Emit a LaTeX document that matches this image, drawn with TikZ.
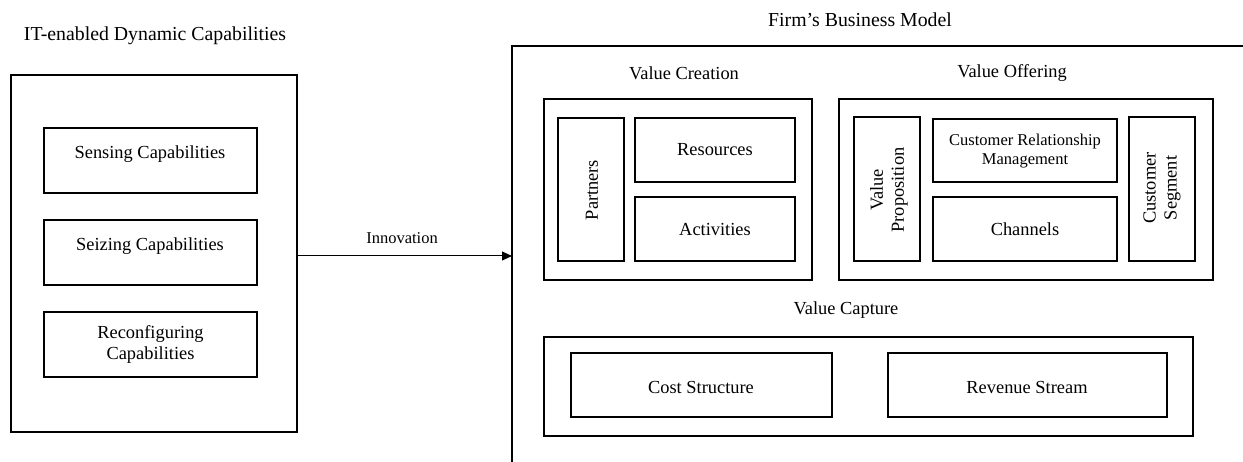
\documentclass[tikz,border=0pt]{standalone}
\usepackage{fontspec}
\setmainfont{Liberation Serif}
\usetikzlibrary{arrows.meta}
\newcommand{\bx}[6]{\node[box, minimum width={(#4-#2)*1pt}, minimum height={(#5-#3)*1pt}] (#1) at ({(#2+#4)/2},{(#3+#5)/2}) {#6};}
\tikzset{
  box/.style={draw, line width=1.7pt, inner sep=0pt, align=center, font=\fontsize{18.4}{21}\selectfont},
  txt/.style={inner sep=0pt, align=center, font=\fontsize{18.4}{21}\selectfont},
  ttl/.style={inner sep=0pt, align=center, font=\fontsize{19.8}{23}\selectfont},
  small/.style={inner sep=0pt, align=center, font=\fontsize{16.5}{19}\selectfont},
  vtxt/.style={txt, rotate=90},
  arr/.style={line width=1pt, -{Triangle[length=10pt, width=9pt]}}
}
\begin{document}
\begin{tikzpicture}[x=1pt, y=-1pt]
\useasboundingbox (0,0) rectangle (1243,462);
\clip (0,0) rectangle (1243,462);
% titles
\node[ttl] (ttlL) at (155,36) {IT-enabled Dynamic Capabilities};
\node[ttl] (ttlR) at (860,20) {Firm’s Business Model};
% left side
\bx{outer}{11}{75}{297}{432}{}
\bx{sense}{44}{128}{257}{193}{}
\node[txt] (senseT) at (150,154) {Sensing Capabilities};
\bx{seize}{44}{220}{257}{285}{}
\node[txt] (seizeT) at (150,246) {Seizing Capabilities};
\bx{reconf}{44}{312}{257}{377}{Reconfiguring\\Capabilities}
% business model frame (cut off at the picture's edges)
\draw[line width=1.7pt] (1260,46) -- (512,46) -- (512,480);
\coordinate (bmin) at (512,256);
% arrow
\draw[arr] (outer.east |- bmin) -- (bmin);
\node[small] (innov) at (402,238) {Innovation};
% value creation
\node[txt] (vcT) at (684,73) {Value Creation};
\bx{vc}{544}{99}{812}{280}{}
\bx{partners}{558}{118}{624}{261}{}
\node[vtxt] (partnersT) at (592,190) {Partners};
\bx{resources}{635}{118}{795}{182}{Resources}
\bx{activities}{635}{197}{795}{261}{Activities}
% value offering
\node[txt] (voT) at (1012,73) {Value Offering};
\bx{vo}{839}{99}{1213}{280}{}
\bx{vp}{854}{117}{920}{261}{}
\node[vtxt] (vpT) at (889,190) {Value\\Proposition};
\bx{crm}{933}{119}{1117}{182}{}
\node[small] (crmT) at (1025,151) {Customer Relationship\\Management};
\bx{channels}{933}{197}{1117}{261}{Channels}
\bx{cs}{1129}{117}{1195}{261}{}
\node[vtxt] (csT) at (1162,188) {Customer\\Segment};
% value capture
\node[txt] (vcapT) at (846,310) {Value Capture};
\bx{vcap}{544}{337}{1193}{436}{}
\bx{cost}{571}{353}{832}{417}{}
\node[txt] (costT) at (701,387) {Cost Structure};
\bx{rev}{888}{353}{1167}{417}{}
\node[txt] (revT) at (1027,387) {Revenue Stream};
\end{tikzpicture}
\end{document}
